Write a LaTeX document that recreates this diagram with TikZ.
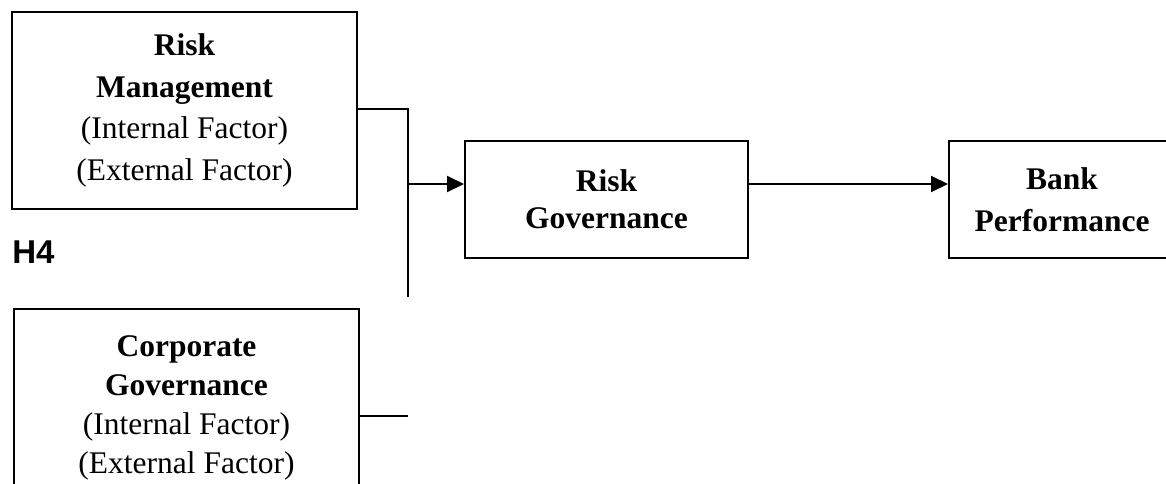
\documentclass[tikz,border=0pt]{standalone}
\usepackage{fontspec}
\setmainfont{Liberation Serif}
\newfontfamily\labelfont{Liberation Sans}
\usetikzlibrary{arrows.meta}

\tikzset{
  box/.style={draw=black, line width=1pt, inner sep=0pt, align=center,
    font=\fontsize{15.75}{20.75}\selectfont},
  link/.style={line width=1pt},
  flow/.style={line width=1pt, -{Triangle[length=8.5pt,width=8pt]}}
}

\begin{document}
\begin{tikzpicture}[x=0.5pt,y=-0.5pt]
  \useasboundingbox (0,0) rectangle (1166,483);

  %left nodes
  \node[box, minimum width=172.5pt, minimum height=98.5pt] (rm) at (184.5,110.5)
    {\textbf{Risk}\\ \textbf{Management}\\ (Internal Factor)\\ (External Factor)};
  \node[box, minimum width=172.5pt, minimum height=98.5pt,
    font=\fontsize{15.75}{19.5}\selectfont] (cg) at (186.5,407.5)
    {\textbf{Corporate}\\ \textbf{Governance}\\ (Internal Factor)\\ (External Factor)};
  \node[anchor=base west, inner sep=0pt, font=\labelfont\bfseries\fontsize{16.5}{19}\selectfont]
    (h4) at (12,263) {H4};

  %right nodes
  \node[box, minimum width=141.5pt, minimum height=58.5pt,
    font=\fontsize{15.75}{18.5}\selectfont] (rg) at (606.5,199.5)
    {\textbf{Risk}\\ \textbf{Governance}};
  \node[box, minimum width=113pt, minimum height=58.5pt] (bp) at (1062,199.5)
    {\textbf{Bank}\\ \textbf{Performance}};

  %edges
  \coordinate (top) at (408,109);
  \coordinate (bot) at (408,297);
  \coordinate (mid) at (408,184);
  \coordinate (stub) at (408,416);
  \draw[link] (rm.east |- top) -- (top) -- (bot);
  \draw[link] (cg.east |- stub) -- (stub);
  \draw[flow] (mid) -- (mid -| rg.west);
  \draw[flow] (mid -| rg.east) -- (mid -| bp.west);
\end{tikzpicture}
\end{document}
